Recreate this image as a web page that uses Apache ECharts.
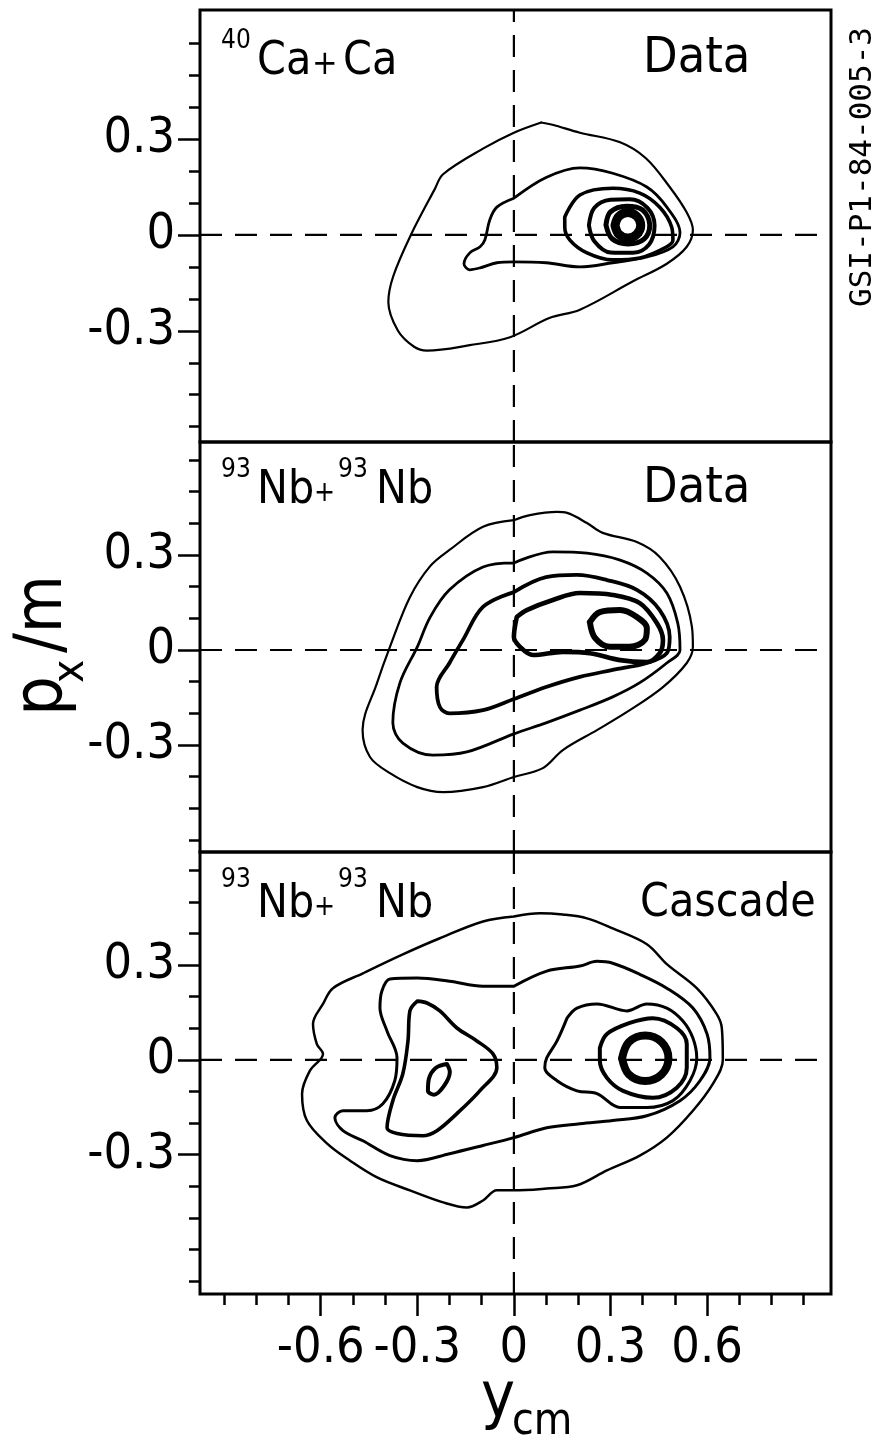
<!DOCTYPE html>
<html><head><meta charset="utf-8">
<script src="https://cdn.jsdelivr.net/npm/echarts@6/dist/echarts.min.js"></script>
<style>html,body{margin:0;padding:0;background:#fff}#c{width:882px;height:1441px}</style>
</head><body><div id="c"></div><script>
const FONT = '"Liberation Sans Narrow","DejaVu Sans Condensed","Liberation Sans",sans-serif';

// ---- axes ----
const xRange = [-0.975, 0.985];
const yRanges = [[-0.648, 0.704], [-0.638, 0.657], [-0.741, 0.658]];
const xMajorTicks = [-0.6, -0.3, 0, 0.3, 0.6];
const xTickLabels = ['-0.6', '-0.3', '0', '0.3', '0.6'];
const xMinorTicks = [-0.9, -0.8, -0.7, -0.6, -0.5, -0.4, -0.3, -0.2, -0.1, 0, 0.1, 0.2, 0.3, 0.4, 0.5, 0.6, 0.7, 0.8, 0.9];
const yMajorTicks = [-0.3, 0, 0.3];
const yTickLabels = ['-0.3', '0', '0.3'];
const yMinorTicks = [
  [-0.6, -0.5, -0.4, -0.3, -0.2, -0.1, 0, 0.1, 0.2, 0.3, 0.4, 0.5, 0.6],
  [-0.6, -0.5, -0.4, -0.3, -0.2, -0.1, 0, 0.1, 0.2, 0.3, 0.4, 0.5, 0.6],
  [-0.7, -0.6, -0.5, -0.4, -0.3, -0.2, -0.1, 0, 0.1, 0.2, 0.3, 0.4, 0.5, 0.6]
];

// ---- texts ----
const panelLeft = [['40', 'Ca', '+', '', 'Ca'], ['93', 'Nb', '+', '93', 'Nb'], ['93', 'Nb', '+', '93', 'Nb']];
const panelRight = ['Data', 'Data', 'Cascade'];
const xTitle = ['y', 'cm'];
const yTitle = ['p', 'x', '/m'];
const sideNote = 'GSI-P1-84-005-3';

// ---- contours (y_cm, p_x/m) ----
// panel 1: 40Ca + Ca data
const p1c1 = [[0.085,0.352],[0.0,0.32],[-0.096,0.27],[-0.22,0.19],[-0.245,0.145],[-0.32,0.0],[-0.375,-0.13],[-0.39,-0.21],[-0.36,-0.30],[-0.31,-0.35],[-0.27,-0.362],[-0.137,-0.345],[-0.012,-0.32],[0.11,-0.26],[0.205,-0.234],[0.37,-0.145],[0.475,-0.09],[0.537,-0.037],[0.556,0.016],[0.537,0.07],[0.484,0.15],[0.41,0.24],[0.33,0.29],[0.205,0.32],[0.12,0.345]];
const p1c2 = [[0.0,0.115],[0.10,0.18],[0.205,0.21],[0.307,0.193],[0.413,0.15],[0.475,0.087],[0.516,0.006],[0.494,-0.037],[0.413,-0.069],[0.307,-0.087],[0.205,-0.10],[0.10,-0.087],[0.0,-0.084],[-0.053,-0.087],[-0.105,-0.103],[-0.137,-0.109],[-0.155,-0.09],[-0.137,-0.056],[-0.105,-0.037],[-0.09,-0.015],[-0.075,0.047],[-0.053,0.087]];
const p1c3 = [[0.158,0.056],[0.205,0.125],[0.307,0.146],[0.391,0.131],[0.453,0.087],[0.49,0.025],[0.494,-0.016],[0.475,-0.037],[0.391,-0.072],[0.307,-0.078],[0.227,-0.056],[0.174,-0.016],[0.158,0.025]];
const p1c4 = [[0.233,0.03],[0.25,0.085],[0.30,0.11],[0.36,0.112],[0.415,0.085],[0.437,0.03],[0.42,-0.03],[0.37,-0.056],[0.30,-0.055],[0.25,-0.02]];
const p1c5 = [[0.286,0.031],[0.30,0.072],[0.35,0.09],[0.40,0.078],[0.422,0.031],[0.405,-0.012],[0.355,-0.028],[0.305,-0.012]];
const p1c6 = [[0.314,0.03],[0.326,0.058],[0.354,0.07],[0.382,0.058],[0.394,0.03],[0.382,0.002],[0.354,-0.01],[0.326,0.002]];
// panel 2: 93Nb + 93Nb data
const p2c1 = [[0.0,0.41],[-0.096,0.389],[-0.2,0.316],[-0.26,0.265],[-0.323,0.167],[-0.385,0.01],[-0.425,-0.104],[-0.47,-0.253],[-0.447,-0.338],[-0.385,-0.389],[-0.3,-0.433],[-0.22,-0.449],[-0.096,-0.433],[0.0,-0.401],[0.09,-0.373],[0.152,-0.316],[0.258,-0.253],[0.36,-0.19],[0.463,-0.117],[0.537,-0.041],[0.556,0.01],[0.553,0.073],[0.516,0.2],[0.453,0.294],[0.382,0.341],[0.276,0.37],[0.227,0.401],[0.165,0.433],[0.134,0.436],[0.05,0.426]];
const p2c2 = [[0.0,0.275],[-0.096,0.262],[-0.2,0.19],[-0.26,0.104],[-0.3,0.01],[-0.354,-0.104],[-0.376,-0.23],[-0.345,-0.294],[-0.252,-0.332],[-0.146,-0.322],[0.0,-0.265],[0.1,-0.23],[0.205,-0.19],[0.307,-0.148],[0.39,-0.104],[0.475,-0.041],[0.516,0.0],[0.509,0.085],[0.475,0.18],[0.413,0.243],[0.33,0.284],[0.227,0.306],[0.121,0.31]];
const p2c3 = [[0.0,0.183],[-0.096,0.136],[-0.158,0.032],[-0.2,-0.041],[-0.24,-0.117],[-0.23,-0.18],[-0.2,-0.2],[-0.096,-0.19],[0.0,-0.155],[0.1,-0.117],[0.205,-0.085],[0.307,-0.063],[0.413,-0.041],[0.475,-0.01],[0.484,0.041],[0.453,0.126],[0.382,0.19],[0.289,0.221],[0.196,0.237],[0.1,0.23]];
const p2c4 = [[0.009,0.104],[0.0,0.041],[0.019,0.01],[0.059,-0.016],[0.152,-0.006],[0.236,-0.01],[0.33,-0.032],[0.413,-0.038],[0.453,-0.01],[0.463,0.032],[0.444,0.085],[0.391,0.148],[0.307,0.174],[0.205,0.18],[0.121,0.158],[0.04,0.126]];
const p2c5 = [[0.236,0.088],[0.267,0.12],[0.33,0.126],[0.382,0.104],[0.413,0.069],[0.407,0.032],[0.36,0.01],[0.298,0.01],[0.252,0.038]];
// panel 3: 93Nb + 93Nb cascade
const p3c1 = [[0.0,0.454],[-0.096,0.438],[-0.23,0.385],[-0.345,0.334],[-0.469,0.274],[-0.562,0.227],[-0.593,0.177],[-0.624,0.114],[-0.612,0.05],[-0.593,0.019],[-0.634,-0.035],[-0.658,-0.107],[-0.643,-0.192],[-0.58,-0.265],[-0.509,-0.319],[-0.425,-0.372],[-0.323,-0.413],[-0.22,-0.451],[-0.146,-0.467],[-0.096,-0.445],[-0.053,-0.413],[0.0,-0.413],[0.102,-0.407],[0.196,-0.397],[0.289,-0.35],[0.391,-0.303],[0.475,-0.246],[0.556,-0.161],[0.618,-0.076],[0.649,0.0],[0.646,0.1],[0.63,0.145],[0.568,0.227],[0.475,0.303],[0.413,0.366],[0.307,0.416],[0.227,0.448],[0.152,0.46],[0.081,0.464]];
const p3c2 = [[0.0,0.233],[-0.096,0.233],[-0.2,0.249],[-0.3,0.259],[-0.385,0.256],[-0.41,0.218],[-0.416,0.164],[-0.394,0.091],[-0.363,0.006],[-0.37,-0.066],[-0.407,-0.139],[-0.457,-0.161],[-0.531,-0.161],[-0.556,-0.183],[-0.531,-0.224],[-0.469,-0.256],[-0.385,-0.303],[-0.3,-0.319],[-0.2,-0.297],[-0.096,-0.271],[0.0,-0.246],[0.102,-0.215],[0.205,-0.202],[0.307,-0.192],[0.413,-0.177],[0.516,-0.129],[0.578,-0.066],[0.609,0.006],[0.6,0.082],[0.556,0.164],[0.475,0.227],[0.391,0.271],[0.307,0.306],[0.258,0.312],[0.205,0.297],[0.102,0.281]];
const p3l3 = [[-0.3,0.186],[-0.323,0.155],[-0.329,0.06],[-0.345,-0.044],[-0.376,-0.129],[-0.394,-0.215],[-0.363,-0.233],[-0.283,-0.24],[-0.239,-0.224],[-0.177,-0.17],[-0.106,-0.098],[-0.053,-0.025],[-0.065,0.019],[-0.115,0.06],[-0.177,0.101],[-0.23,0.155],[-0.27,0.18]];
const p3l4 = [[-0.208,-0.013],[-0.199,-0.038],[-0.217,-0.082],[-0.248,-0.11],[-0.267,-0.098],[-0.264,-0.06],[-0.242,-0.025]];
const p3r3 = [[0.165,0.132],[0.196,0.164],[0.258,0.177],[0.351,0.155],[0.413,0.177],[0.475,0.164],[0.525,0.123],[0.556,0.069],[0.568,0.006],[0.547,-0.066],[0.494,-0.129],[0.413,-0.151],[0.33,-0.151],[0.258,-0.107],[0.196,-0.098],[0.134,-0.066],[0.096,-0.025],[0.102,0.006],[0.134,0.06]];
const p3r4 = [[0.267,0.038],[0.289,0.082],[0.36,0.117],[0.432,0.132],[0.506,0.101],[0.537,0.05],[0.537,-0.025],[0.506,-0.088],[0.432,-0.12],[0.339,-0.098],[0.289,-0.057],[0.267,-0.003]];
const p3r5 = [[0.336,0.005],[0.357,0.056],[0.408,0.077],[0.459,0.056],[0.48,0.005],[0.459,-0.046],[0.408,-0.067],[0.357,-0.046]];

const contours = [
  {g: 0, d: p1c1, w: 2.2}, {g: 0, d: p1c2, w: 2.8}, {g: 0, d: p1c3, w: 3.6}, {g: 0, d: p1c4, w: 4}, {g: 0, d: p1c5, w: 5}, {g: 0, d: p1c6, w: 9},
  {g: 1, d: p2c1, w: 2.2}, {g: 1, d: p2c2, w: 2.8}, {g: 1, d: p2c3, w: 3.8}, {g: 1, d: p2c4, w: 4.6}, {g: 1, d: p2c5, w: 6},
  {g: 2, d: p3c1, w: 2.5}, {g: 2, d: p3c2, w: 3}, {g: 2, d: p3l3, w: 3.6}, {g: 2, d: p3l4, w: 4},
  {g: 2, d: p3r3, w: 3}, {g: 2, d: p3r4, w: 4}, {g: 2, d: p3r5, w: 8}
];

// ---- layout ----
const gridBoxes = [{top: 10, height: 432}, {top: 442, height: 410}, {top: 852, height: 442}];
const GL = 200, GW = 631;

const fmt = (vals, labels) => v => { for (let i = 0; i < vals.length; i++) if (Math.abs(vals[i] - v) < 1e-6) return labels[i]; return ''; };

const grid = gridBoxes.map(b => ({left: GL, width: GW, top: b.top, height: b.height, show: true, borderColor: '#000', borderWidth: 3, backgroundColor: 'transparent'}));

const noLine = {show: false, onZero: false};
const xAxis = [];
gridBoxes.forEach((b, i) => {
  const bottom = i === 2;
  xAxis.push({type: 'value', gridIndex: i, min: xRange[0], max: xRange[1], position: 'bottom',
    axisLine: noLine, splitLine: {show: false},
    axisTick: {show: bottom, customValues: xMinorTicks, length: 11, lineStyle: {color: '#000', width: 2.5}},
    axisLabel: {show: bottom, customValues: xMajorTicks, formatter: fmt(xMajorTicks, xTickLabels), margin: 30, color: '#000', fontSize: 50, fontFamily: FONT}});
});
// major x ticks (long)
xAxis.push({type: 'value', gridIndex: 2, min: xRange[0], max: xRange[1], position: 'bottom',
  axisLine: noLine, splitLine: {show: false}, axisLabel: {show: false},
  axisTick: {show: true, customValues: xMajorTicks, length: 22, lineStyle: {color: '#000', width: 2.5}}});

const yAxis = [];
gridBoxes.forEach((b, i) => {
  yAxis.push({type: 'value', gridIndex: i, min: yRanges[i][0], max: yRanges[i][1], position: 'left',
    axisLine: noLine, splitLine: {show: false},
    axisTick: {show: true, customValues: yMinorTicks[i], length: 11, lineStyle: {color: '#000', width: 2.5}},
    axisLabel: {show: true, customValues: yMajorTicks, formatter: fmt(yMajorTicks, yTickLabels), margin: 25, color: '#000', fontSize: 50, fontFamily: FONT}});
  yAxis.push({type: 'value', gridIndex: i, min: yRanges[i][0], max: yRanges[i][1], position: 'left', offset: 0,
    axisLine: noLine, splitLine: {show: false}, axisLabel: {show: false},
    axisTick: {show: true, customValues: yMajorTicks, length: 22, lineStyle: {color: '#000', width: 2.5}}});
});

const series = [];
gridBoxes.forEach((b, i) => {
  series.push({type: 'line', xAxisIndex: i, yAxisIndex: 2 * i, data: [[0, yRanges[i][0]], [0, yRanges[i][1]]],
    symbol: 'none', silent: true, lineStyle: {color: '#000', width: 2.2, type: [22, 13]}, z: 2});
  series.push({type: 'line', xAxisIndex: i, yAxisIndex: 2 * i, data: [[xRange[0], 0], [xRange[1], 0]],
    symbol: 'none', silent: true, lineStyle: {color: '#000', width: 2.2, type: [22, 13]}, z: 2});
});
contours.forEach(c => {
  series.push({type: 'line', xAxisIndex: c.g, yAxisIndex: 2 * c.g, data: c.d.concat([c.d[0]]),
    smooth: 0.35, symbol: 'none', silent: true, lineStyle: {color: '#000', width: c.w, join: 'round', cap: 'round'}, z: 3});
});

const txt = (text, x, y, size, opts) => Object.assign({type: 'text', x: x, y: y, silent: true,
  style: {text: text, font: size + 'px ' + FONT, fill: '#000', textAlign: 'left', align: 'left', textVerticalAlign: 'middle', verticalAlign: 'middle'}}, opts || {});

const leftY = [[41, 62], [470, 491], [880, 905]];
const graphic = [];
panelLeft.forEach((p, i) => {
  const [sy, my] = leftY[i];
  graphic.push(txt(p[0], 221, sy, 26));
  graphic.push(txt(p[1], 257, my, 46));
  graphic.push(txt(p[2], p[3] ? 314 : 312, my + 3, p[3] ? 28 : 34));
  if (p[3]) graphic.push(txt(p[3], 338, sy, 26));
  graphic.push(txt(p[4], p[3] ? 376 : 343, my, 46));
});
const rightY = [59, 489, 904];
const rightSize = [50, 50, 46];
const rightX = [643, 643, 640];
panelRight.forEach((t, i) => graphic.push(txt(t, rightX[i], rightY[i], rightSize[i])));
graphic.push(txt(xTitle[0], 481, 1400, 64));
graphic.push(txt(xTitle[1], 512, 1423, 44));
graphic.push(txt(yTitle[0], 44, 716, 70, {rotation: Math.PI / 2}));
graphic.push(txt(yTitle[1], 72, 683, 44, {rotation: Math.PI / 2}));
graphic.push(txt(yTitle[2], 44, 653, 66, {rotation: Math.PI / 2}));
graphic.push({type: 'text', x: 863, y: 167, rotation: Math.PI / 2, silent: true,
  style: {text: sideNote, font: '31px "DejaVu Sans Mono", monospace', fill: '#000', textAlign: 'center', align: 'center', textVerticalAlign: 'middle', verticalAlign: 'middle'}});

const chart = echarts.init(document.getElementById('c'), null, {renderer: 'canvas'});
chart.setOption({animation: false, backgroundColor: '#fff', grid, xAxis, yAxis, series, graphic});
</script></body></html>
